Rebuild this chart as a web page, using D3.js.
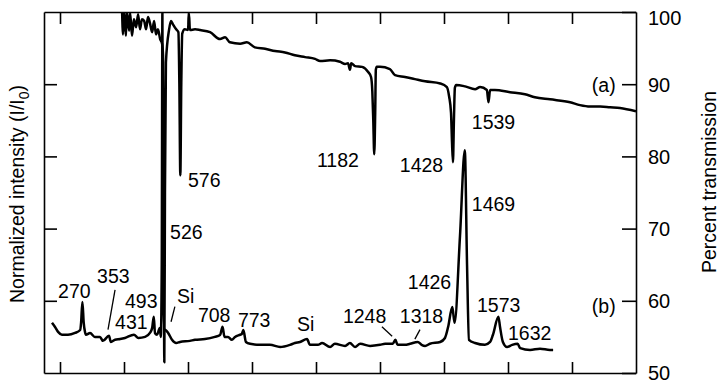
<!DOCTYPE html>
<html><head><meta charset="utf-8">
<script src="https://cdn.jsdelivr.net/npm/d3@7"></script>
<style>body{margin:0;background:#fff} svg{display:block} text{font-family:"Liberation Sans",Arial,Helvetica,sans-serif;fill:#000}</style>
</head><body><svg id="c" width="719" height="385"></svg>
<script>
// (a) IR transmission spectrum
const irWavenumber = [394,397,400,406,409,416,419,425,431,438,444,450,456,463,469,475,481,488,494,500,506,513,519,522,524,526,528,531,541,547,553,563,570,573,576,579,582,590,600,603,606,622,638,669,700,716,731,763,784,809,841,872,903,934,966,997,1013,1044,1075,1091,1100,1106,1110,1122,1144,1163,1172,1176,1179,1182,1185,1187,1190,1200,1231,1247,1278,1309,1341,1388,1409,1416,1422,1425,1428,1431,1434,1438,1466,1497,1513,1534,1539,1544,1559,1606,1653,1684,1731,1794,1825,1856,1888,1919,1950,2000];
const irTransmission = [100.1,96.9,100.1,96.7,100.1,97.4,99.9,96.7,99.0,97.9,99.7,97.6,99.0,98.75,97.6,99.3,98.5,97.2,98.75,96.9,97.6,96.25,95.6,94,75,51.5,75,93,97.6,98.75,98.3,97.6,97.2,90,77.4,90,97.0,97.6,97.5,99.8,97.5,97.6,97.5,97.2,96.25,96.5,95.8,95.6,95.8,95.1,94.9,94.6,94.4,94.0,93.75,93.5,93.2,93.3,93.1,92.8,92.9,92.0,92.9,92.5,92.4,91.7,91.0,89,85,80.3,86,92.0,92.4,92.4,92.1,91.25,91.0,90.7,90.4,90.1,89.6,88.3,86,82,79.2,85,89.5,89.9,89.7,89.3,89.6,89.2,87.5,89.2,89.2,88.9,88.6,88.2,87.9,87.5,87.1,86.9,86.9,86.8,86.7,86.25];
// (b) Raman spectrum (normalized intensity)
const ramanShift = [175,184,194,206,225,247,263,266,270,274,278,281,294,309,325,334,353,359,372,388,403,431,445,466,481,488,493,497,503,509,512,515,518,520,522,526,530,538,550,563,575,606,622,653,684,700,708,714,725,737,747,763,768,773,781,794,825,856,888,919,934,950,972,981,1006,1019,1044,1059,1091,1106,1122,1138,1169,1200,1216,1240,1248,1255,1278,1294,1318,1330,1341,1356,1388,1403,1413,1426,1433,1450,1465,1472,1478,1497,1528,1544,1553,1570,1575,1584,1597,1613,1630,1638,1669,1700,1731,1741];
const ramanIntensity = [0.139,0.128,0.114,0.106,0.106,0.111,0.119,0.14,0.197,0.14,0.114,0.106,0.111,0.1,0.1,0.089,0.103,0.086,0.092,0.094,0.097,0.106,0.097,0.1,0.111,0.125,0.156,0.11,0.106,0.119,0.125,0.1,0.3,1.0,0.3,0.12,0.119,0.111,0.092,0.083,0.086,0.089,0.092,0.094,0.1,0.105,0.128,0.1,0.1,0.092,0.1,0.106,0.108,0.119,0.086,0.081,0.078,0.078,0.072,0.078,0.083,0.086,0.094,0.078,0.078,0.083,0.072,0.081,0.075,0.083,0.072,0.081,0.075,0.078,0.081,0.081,0.092,0.078,0.078,0.081,0.086,0.078,0.075,0.081,0.086,0.097,0.128,0.183,0.139,0.38,0.617,0.3,0.092,0.083,0.078,0.086,0.106,0.156,0.128,0.086,0.072,0.078,0.081,0.069,0.064,0.067,0.064,0.064];

const xTicks = [200,400,600,800,1000,1200,1400,1600,1800];
const rightTicks = [50,60,70,80,90,100];
const leftTicks = [0.2,0.4,0.6,0.8];

const labelText = ["576","526","1182","1428","1539","(a)","1469","(b)","1573","1632","1426","1318","1248","Si","773","708","Si","493","431","353","270"];
const labelWavenumber = [600,544,1003,1262,1487,1862,1487,1862,1503,1600,1287,1262,1084,941,756,631,566,403,372,316,194];
const labelPercent = [75.8,68.6,78.6,77.9,83.75,88.9,72.4,58.3,58.5,54.6,61.7,56.9,56.9,55.8,56.4,57.1,59.7,59.0,56.1,62.5,60.4];
const leaderFrom = [[372,61.5],[559,59.2],[1206,56.4],[1325,56.0]];
const leaderTo = [[350,56.0],[547,57.1],[1238,55.1],[1309,54.7]];

const L = 44, R = 636, T = 12, B = 373;
const svg = d3.select("#c");
const x = d3.scaleLinear().domain([150, 2000]).range([L, R]);
const yR = d3.scaleLinear().domain([50, 100]).range([B, T]);
const yL = d3.scaleLinear().domain([0, 1]).range([B, T]);

svg.append("defs").append("clipPath").attr("id","clip")
  .append("rect").attr("x",L).attr("y",T).attr("width",R-L).attr("height",B-T);

const axStyle = g => { g.selectAll("path,line").attr("stroke","#000").attr("stroke-width",1.6); };

svg.append("g").attr("transform",`translate(0,${B})`)
  .call(d3.axisBottom(x).tickValues(xTicks).tickSize(-11).tickSizeOuter(0).tickFormat(""))
  .call(axStyle);
svg.append("g").attr("transform",`translate(0,${T})`)
  .call(d3.axisTop(x).tickValues(xTicks).tickSize(-12).tickSizeOuter(0).tickFormat(""))
  .call(axStyle);
svg.append("g").attr("transform",`translate(${L},0)`)
  .call(d3.axisLeft(yL).tickValues(leftTicks).tickSize(-13).tickSizeOuter(0).tickFormat(""))
  .call(axStyle);
const ra = svg.append("g").attr("transform",`translate(${R},0)`)
  .call(d3.axisRight(yR).tickValues(rightTicks).tickSize(-14).tickSizeOuter(0).tickPadding(12).tickFormat(d3.format("d")))
  .call(axStyle);
ra.selectAll("text").attr("font-size",20).attr("font-family","'Liberation Sans',Arial,sans-serif")
  .attr("fill","#000").attr("dy", d => d === 100 ? "0.62em" : "0.34em");

const plot = svg.append("g").attr("clip-path","url(#clip)");
const irLine = d3.line().x((d,i)=>x(irWavenumber[i])).y(d=>yR(d)).curve(d3.curveMonotoneX);
const ramanLine = d3.line().x((d,i)=>x(ramanShift[i])).y(d=>yL(d)).curve(d3.curveMonotoneX);
plot.append("path").attr("d", irLine(irTransmission)).attr("fill","none").attr("stroke","#000")
  .attr("stroke-width",2.5).attr("stroke-linejoin","round");
plot.append("path").attr("d", ramanLine(ramanIntensity)).attr("fill","none").attr("stroke","#000")
  .attr("stroke-width",2.5).attr("stroke-linejoin","round");

svg.append("g").selectAll("text").data(labelText).join("text")
  .attr("x",(d,i)=>x(labelWavenumber[i])).attr("y",(d,i)=>yR(labelPercent[i]))
  .attr("font-size",19.5).text(d=>d);

svg.append("g").selectAll("line").data(leaderFrom).join("line")
  .attr("x1",d=>x(d[0])).attr("y1",d=>yR(d[1]))
  .attr("x2",(d,i)=>x(leaderTo[i][0])).attr("y2",(d,i)=>yR(leaderTo[i][1]))
  .attr("stroke","#000").attr("stroke-width",1.3);

const lt = svg.append("text").attr("transform","translate(24,194) rotate(-90)")
  .attr("text-anchor","middle").attr("font-size",19.5);
lt.append("tspan").text("Normalized intensity (I/I");
lt.append("tspan").attr("font-size",14).attr("dy",5).text("0");
lt.append("tspan").attr("dy",-5).text(")");

svg.append("text").attr("transform","translate(716,182) rotate(-90)")
  .attr("text-anchor","middle").attr("font-size",19.5).text("Percent transmission");
</script></body></html>
